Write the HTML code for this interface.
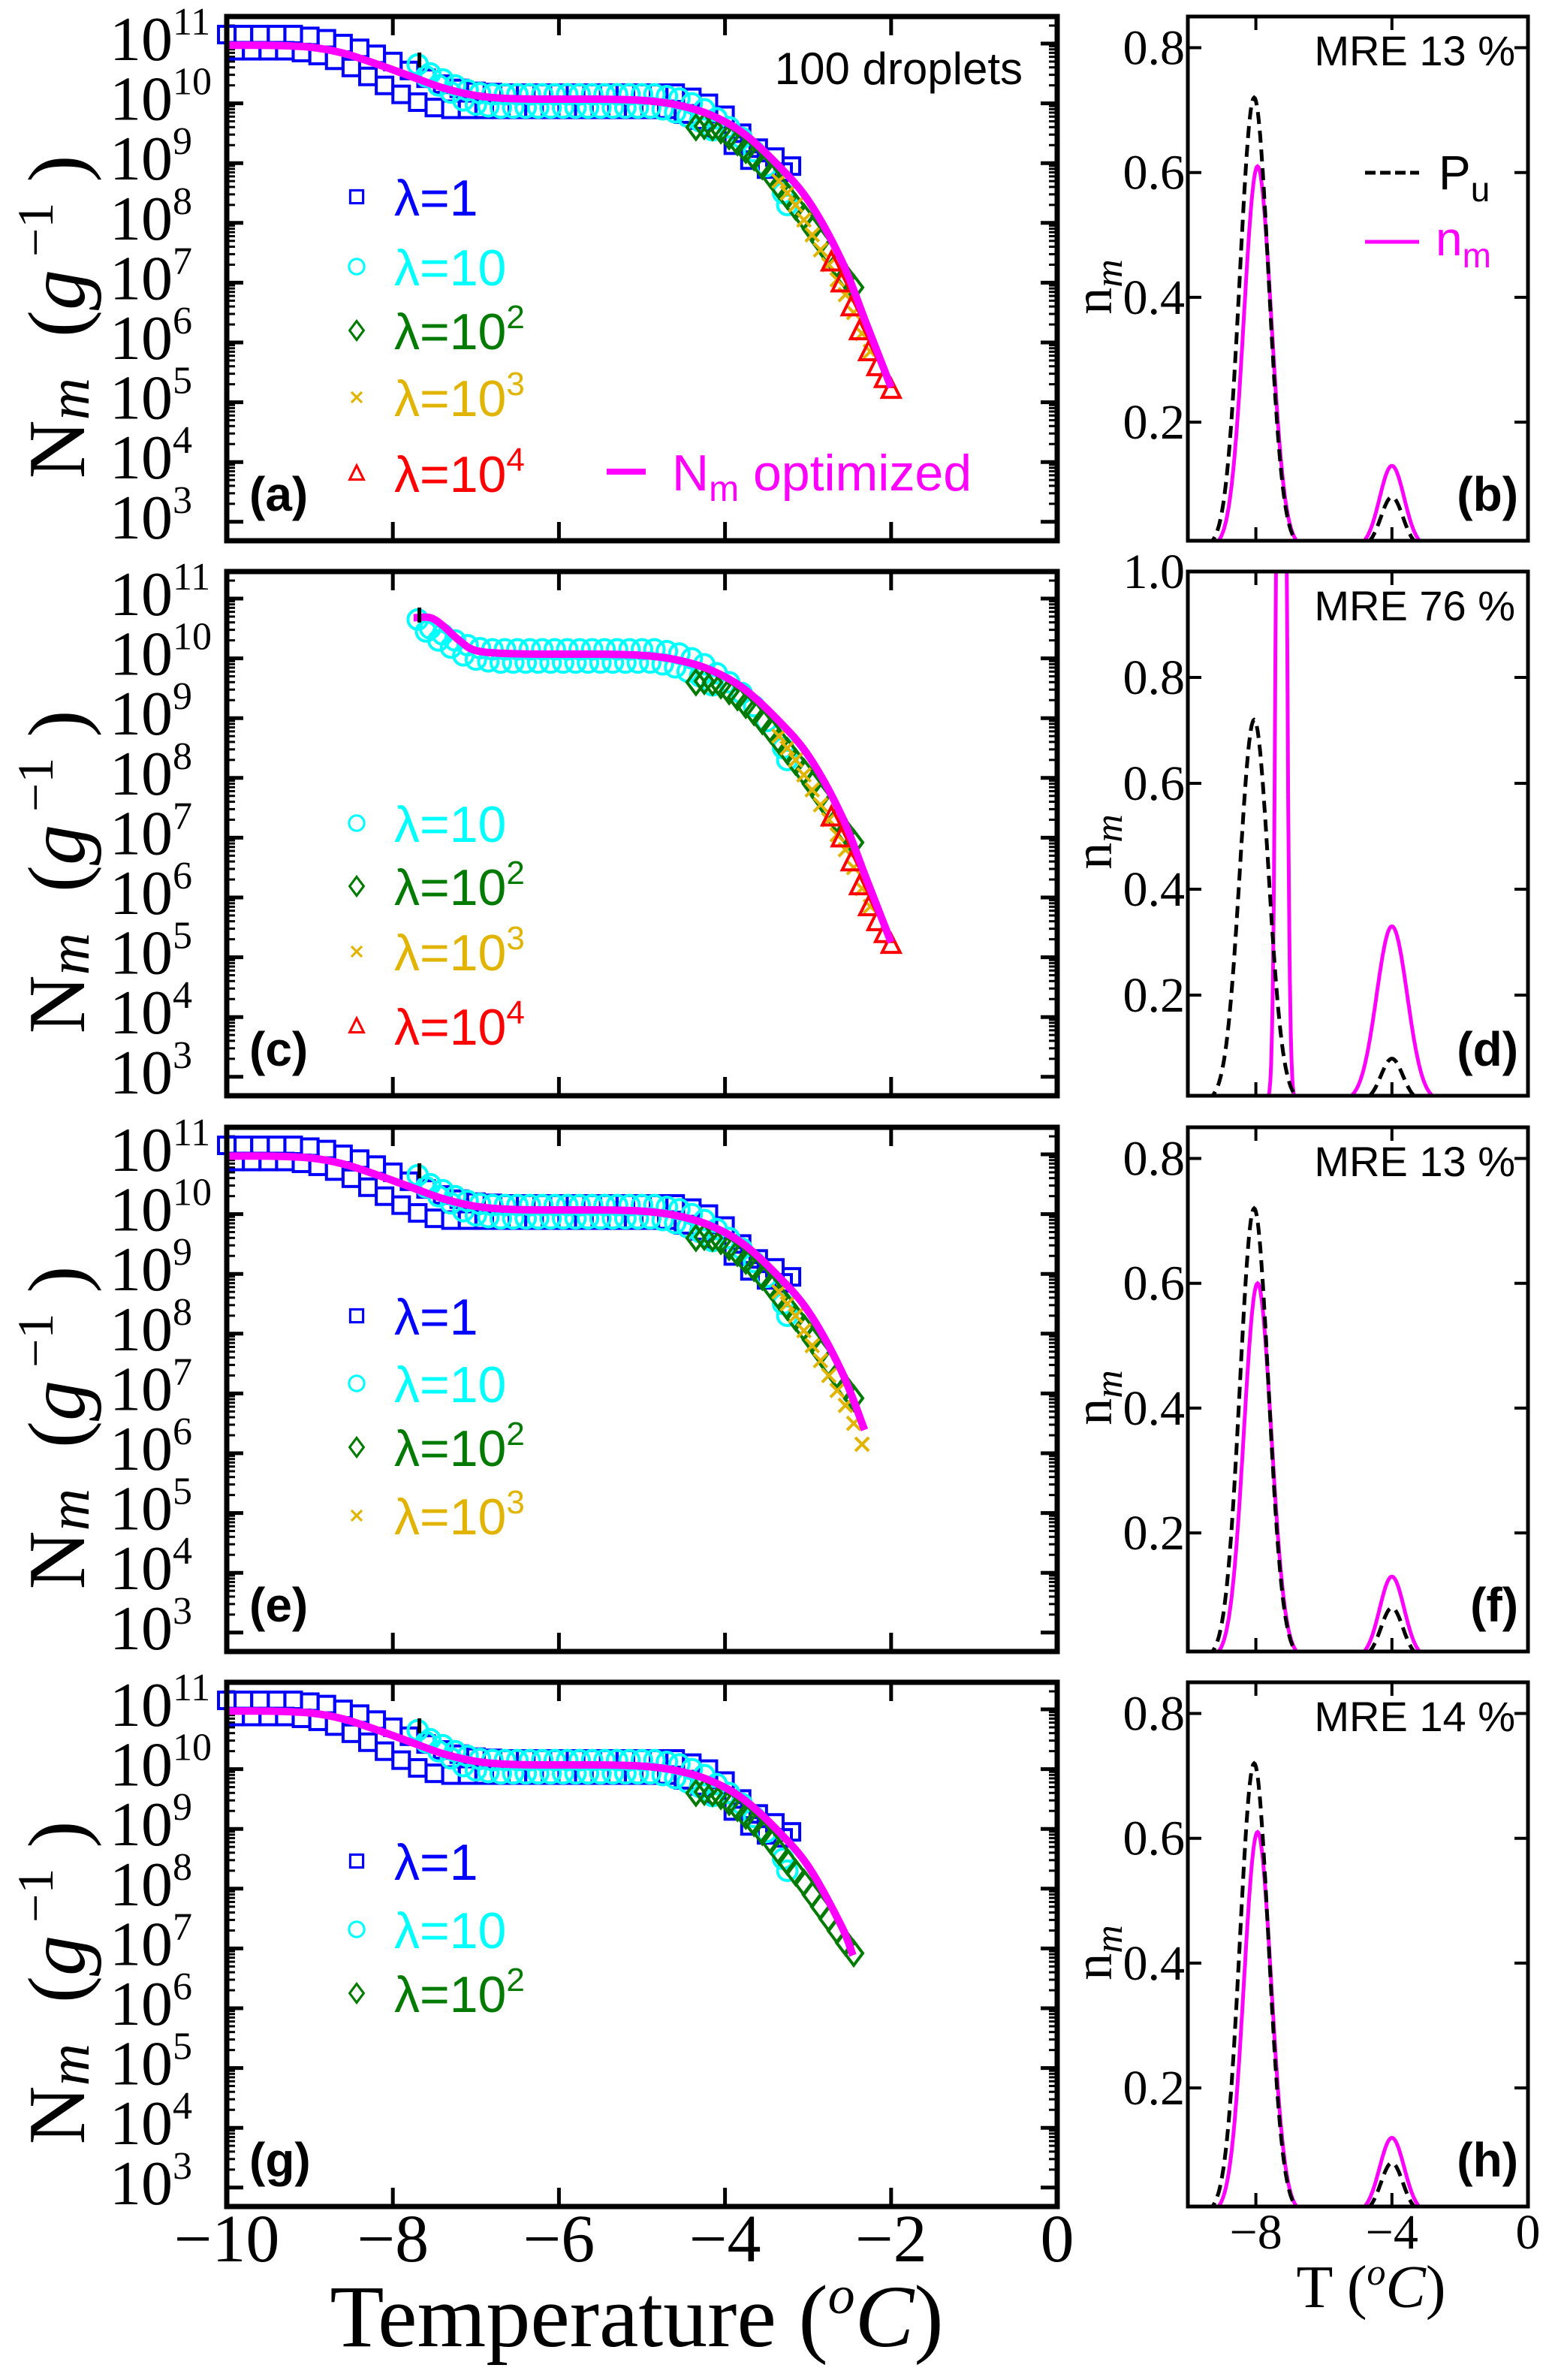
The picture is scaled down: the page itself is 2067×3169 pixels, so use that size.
<!DOCTYPE html>
<html><head><meta charset="utf-8"><style>
html,body{margin:0;padding:0;background:#fff;}
svg{display:block;}
</style></head><body>
<svg id="fig" xmlns="http://www.w3.org/2000/svg" width="2067" height="3169" viewBox="0 0 2067 3169">
<rect x="0" y="0" width="2067" height="3169" fill="#fff"/>
<g id="root"></g>
</svg>
<script>
// ---------- data ----------
const curveT   = [-10,-9.5,-9.0,-8.6,-8.2,-7.8,-7.4,-7.0,-6.6,-6.0,-5.5,-5.0,-4.6,-4.2,-3.8,-3.4,-3.0,-2.6,-2.3,-2.0];
const curveLog = [10.97,10.97,10.94,10.84,10.66,10.46,10.26,10.13,10.08,10.07,10.07,10.05,9.98,9.82,9.52,9.02,8.38,7.38,6.32,5.25];
const curveCT   = [-7.75,-7.55,-7.4,-7.2,-7.0,-6.6,-6.0,-5.5,-5.0,-4.6,-4.2,-3.8,-3.4,-3.0,-2.6,-2.3,-2.0];
const curveCLog = [10.68,10.68,10.55,10.3,10.13,10.08,10.07,10.07,10.05,9.98,9.82,9.52,9.02,8.38,7.38,6.32,5.25];
const curveEndT = [-2.0, -2.0, -2.32, -2.46];

const blueHiT   = [-10,-9.8,-9.6,-9.4,-9.2,-9.0,-8.8,-8.6,-8.4,-8.2,-8.0,-7.8,-7.6,-7.4,-7.2,-7.0,-6.8,-6.6,-6.4,-6.2,-6.0,-5.8,-5.6,-5.4,-5.2,-5.0,-4.8,-4.6,-4.4,-4.2,-4.0,-3.8,-3.6,-3.4,-3.2];
const blueHiLog = [11.15,11.15,11.15,11.15,11.15,11.12,11.08,11.0,10.92,10.82,10.7,10.55,10.42,10.32,10.25,10.2,10.18,10.17,10.17,10.17,10.17,10.17,10.17,10.17,10.17,10.17,10.17,10.17,10.1,10.0,9.8,9.5,9.25,9.1,8.95];
const blueLoT   = [-9.9,-9.7,-9.5,-9.3,-9.1,-8.9,-8.7,-8.5,-8.3,-8.1,-7.9,-7.7,-7.5,-7.3,-7.1,-6.9,-6.7,-6.5,-6.3,-6.1,-5.9,-5.7,-5.5,-5.3,-5.1,-4.9,-4.7,-4.5,-4.3,-4.1,-3.9,-3.7,-3.5,-3.3];
const blueLoLog = [10.88,10.88,10.88,10.88,10.85,10.8,10.72,10.6,10.45,10.3,10.15,10.02,9.93,9.9,9.9,9.9,9.9,9.9,9.9,9.9,9.9,9.9,9.9,9.9,9.9,9.9,9.9,9.82,9.72,9.55,9.3,9.05,8.9,8.85];

const cyanHiT   = [-7.7,-7.55,-7.4,-7.25,-7.1,-6.95,-6.8,-6.65,-6.5,-6.35,-6.2,-6.05,-5.9,-5.75,-5.6,-5.45,-5.3,-5.15,-5.0,-4.85,-4.7,-4.55,-4.4,-4.25,-4.1,-3.95,-3.8,-3.65,-3.5];
const cyanHiLog = [10.65,10.5,10.4,10.3,10.22,10.17,10.15,10.15,10.15,10.15,10.15,10.15,10.15,10.15,10.15,10.15,10.15,10.15,10.15,10.15,10.12,10.08,10.0,9.9,9.75,9.6,9.42,9.2,8.95];
const cyanLoT   = [-7.6,-7.45,-7.3,-7.15,-7.0,-6.85,-6.7,-6.55,-6.4,-6.25,-6.1,-5.95,-5.8,-5.65,-5.5,-5.35,-5.2,-5.05,-4.9,-4.75,-4.6,-4.45,-4.3,-4.15,-3.3,-3.25];
const cyanLoLog = [10.45,10.3,10.18,10.05,9.98,9.95,9.93,9.93,9.93,9.93,9.93,9.93,9.93,9.93,9.93,9.93,9.93,9.93,9.93,9.9,9.85,9.78,9.7,9.55,8.5,8.3];

const greenT   = [-4.35,-4.25,-4.15,-4.05,-3.95,-3.85,-3.75,-3.65,-3.55,-3.45,-3.35,-3.25,-3.15,-3.05,-2.95,-2.85,-2.75,-2.65,-2.55,-2.45];
const greenLog = [9.6,9.62,9.6,9.55,9.45,9.35,9.22,9.1,8.95,8.8,8.62,8.45,8.27,8.1,7.9,7.7,7.5,7.3,7.1,6.92];
const yellowT   = [-3.35,-3.25,-3.15,-3.05,-2.95,-2.85,-2.75,-2.65,-2.55,-2.45,-2.35,-2.25];
const yellowLog = [8.7,8.5,8.3,8.05,7.8,7.55,7.3,7.05,6.8,6.5,6.15,5.85];
const redT   = [-2.72,-2.6,-2.48,-2.38,-2.27,-2.17,-2.08,-2.0];
const redLog = [7.35,7.0,6.6,6.2,5.85,5.6,5.4,5.22];

const puCenters = [-8.05,-4.0];
const puHeights = [0.72,0.08];
const puWidths  = [0.42,0.32];
const nmCenters = [[-7.95,-4.0],[-7.25,-4.0],[-7.95,-4.0],[-7.95,-4.0]];
const nmHeights = [[0.61,0.13],[3.0,0.33],[0.60,0.13],[0.61,0.12]];
const nmWidths  = [[0.40,0.36],[0.11,0.45],[0.40,0.36],[0.40,0.36]];
const mreValues = ['13','76','13','14'];
const logTicks = [3,4,5,6,7,8,9,10,11];
const xTicksL = [-10,-8,-6,-4,-2,0];
const xTicksR = [-8,-4,0];

// ---------- layout ----------
const NS='http://www.w3.org/2000/svg';
const root=document.getElementById('root');
const rowTop=[22,761,1501,2240];
const H=698;
const LX0=302, LX1=1408;
const RX0=1582, RX1=2035;
function xL(T){return LX0+(LX1-LX0)*(T+10)/10;}
function yL(top,v){return top+36+79.6*(11-v);}
function xR(T){return RX0+(RX1-RX0)*(T+10)/10;}
function yR(top,v,vmax){return top+H-(v-0.01)/(vmax-0.01)*H;}
function mk(tag,attrs,parent){const e=document.createElementNS(NS,tag);for(const k in attrs)e.setAttribute(k,attrs[k]);(parent||root).appendChild(e);return e;}

const colors={blue:'#0000ff',cyan:'#00ffff',green:'#007a00',yellow:'#e0b400',red:'#ff0000',mag:'#ff00ff'};

function marker(g,type,x,y,col){
  let e;
  if(type==='sq'){e=mk('rect',{x:x-11,y:y-11,width:22,height:22,fill:'none',stroke:col,'stroke-width':4},g);}
  else if(type==='ci'){e=mk('circle',{cx:x,cy:y,r:13,fill:'none',stroke:col,'stroke-width':4},g);}
  else if(type==='di'){e=mk('path',{d:`M${x} ${y-16}L${x+12} ${y}L${x} ${y+16}L${x-12} ${y}Z`,fill:'none',stroke:col,'stroke-width':4},g);}
  else if(type==='x'){e=mk('path',{d:`M${x-9} ${y-9}L${x+9} ${y+9}M${x+9} ${y-9}L${x-9} ${y+9}`,fill:'none',stroke:col,'stroke-width':4},g);}
  else {e=mk('path',{d:`M${x} ${y-13}L${x+12} ${y+11}L${x-12} ${y+11}Z`,fill:'none',stroke:col,'stroke-width':4},g);}
  return e;
}
function series(g,top,Ts,Ls,type,col,name){
  const s=mk('g',{},g);
  
  
  for(let i=0;i<Ts.length;i++){
    const m=marker(s,type,xL(Ts[i]),yL(top,Ls[i]),col);
    
    
  }
}
function txt(g,x,y,str,attrs){const t=mk('text',Object.assign({x:x,y:y},attrs||{}),g);t.textContent=str;return t;}
function sup(t,str,size,dy){const s=mk('tspan',{'font-size':size,dy:dy},t);s.textContent=str;return s;}

const panelsL=[
 {lab:'(a)',series:['blue','cyan','green','yellow','red'],legY:[262,355,440,529,630]},
 {lab:'(c)',series:['cyan','green','yellow','red'],legY:[1096,1180,1267,1366]},
 {lab:'(e)',series:['blue','cyan','green','yellow'],legY:[1752,1842,1927,2018]},
 {lab:'(g)',series:['blue','cyan','green'],legY:[2478,2569,2654]}
];
const legInfo={blue:['sq','1',null],cyan:['ci','10',null],green:['di','10','2'],yellow:['x','10','3'],red:['tr','10','4']};
const serif='"Liberation Serif", serif', sans='"Liberation Sans", sans-serif';

panelsL.forEach((p,pi)=>{
  const top=rowTop[pi];
  const g=mk('g',{});
  
  
  logTicks.forEach(v=>{
    const y=yL(top,v);
    if(y>top&&y<top+H){
      mk('line',{x1:LX0,x2:LX0+22,y1:y,y2:y,stroke:'#000','stroke-width':5},g);
      mk('line',{x1:LX1-22,x2:LX1,y1:y,y2:y,stroke:'#000','stroke-width':5},g);
    }
    const t=txt(g,146,y+22,'10',{'font-family':serif,'font-size':84,fill:'#000'});
    
    
    sup(t,String(v),52,-34);
    for(let k=2;k<=9;k++){
      const ym=yL(top,v+Math.log10(k));
      if(ym>top+3&&ym<top+H-3){
        mk('line',{x1:LX0,x2:LX0+11,y1:ym,y2:ym,stroke:'#000','stroke-width':3},g);
        mk('line',{x1:LX1-11,x2:LX1,y1:ym,y2:ym,stroke:'#000','stroke-width':3},g);
      }
    }
  });
  [-8,-6,-4,-2].forEach(T=>{
    const x=xL(T);
    mk('line',{x1:x,x2:x,y1:top,y2:top+25,stroke:'#000','stroke-width':5},g);
    mk('line',{x1:x,x2:x,y1:top+H-25,y2:top+H,stroke:'#000','stroke-width':5},g);
  });
  const cT = pi===1?curveCT:curveT, cL = pi===1?curveCLog:curveLog;
  p.series.forEach(s=>{
    if(s==='blue'){series(g,top,blueHiT,blueHiLog,'sq',colors.blue,'lambda-1-upper');series(g,top,blueLoT,blueLoLog,'sq',colors.blue,'lambda-1-lower');}
    if(s==='cyan'){series(g,top,cyanHiT,cyanHiLog,'ci',colors.cyan,'lambda-10-upper');series(g,top,cyanLoT,cyanLoLog,'ci',colors.cyan,'lambda-10-lower');}
    if(s==='green'){series(g,top,greenT,greenLog,'di',colors.green,'lambda-100');}
    if(s==='yellow'){const n=pi===2?11:12;series(g,top,yellowT.slice(0,n),yellowLog.slice(0,n),'x',colors.yellow,'lambda-1000');}
    if(s==='red'){series(g,top,redT,redLog,'tr',colors.red,'lambda-10000');}
  });
  let pts=[];
  const endT=curveEndT[pi];
  for(let i=0;i<cT.length;i++){
    if(cT[i]<=endT+1e-9)pts.push([cT[i],cL[i]]);
    else{const a=cT[i-1],b=cT[i];const f=(endT-a)/(b-a);pts.push([endT,cL[i-1]+f*(cL[i]-cL[i-1])]);break;}
  }
  const P=pts.map(q=>[xL(q[0]),yL(top,q[1])]);
  let d=`M${P[0][0]} ${P[0][1]}`;
  for(let i=0;i<P.length-1;i++){
    const p0=P[Math.max(0,i-1)],p1=P[i],p2=P[i+1],p3=P[Math.min(P.length-1,i+2)];
    d+=`C${p1[0]+(p2[0]-p0[0])/6} ${p1[1]+(p2[1]-p0[1])/6} ${p2[0]-(p3[0]-p1[0])/6} ${p2[1]-(p3[1]-p1[1])/6} ${p2[0]} ${p2[1]}`;
  }
  const cv=mk('path',{d:d,fill:'none',stroke:colors.mag,'stroke-width':10,'stroke-linejoin':'round'},g);
  
  
  mk('line',{x1:xL(-7.68),x2:xL(-7.68),y1:yL(top,10.85),y2:yL(top,10.6),stroke:'#000','stroke-width':5},g);
  const fr=mk('rect',{x:LX0,y:top,width:LX1-LX0,height:H,fill:'none',stroke:'#000','stroke-width':7},g);
  
  
  const yt=txt(g,0,0,'N',{'font-family':serif,'font-size':108,fill:'#000',transform:`translate(112 ${top+400}) rotate(-90)`,'text-anchor':'middle'});
  
  
  const sm=sup(yt,'m',78,6);sm.setAttribute('font-style','italic');
  sup(yt,'\u00a0\u00a0(',108,-6);
  const s2=sup(yt,'g',108,0);s2.setAttribute('font-style','italic');
  sup(yt,'\u00a0−1',68,-42);
  sup(yt,'\u00a0)',108,42);
  p.series.forEach((s,i)=>{
    const y=p.legY[i];const info=legInfo[s];
    const lg=mk('g',{},g);
    
    
    const mm=mk('g',{transform:`translate(${475} ${y}) scale(0.78)`},lg);
    marker(mm,info[0],0,0,colors[s]);
    const t=txt(lg,525,y+25,'λ='+info[1],{'font-family':sans,'font-size':68,fill:colors[s]});
    if(info[2])sup(t,info[2],44,-28);
  });
  if(pi===0){
    const lg=mk('g',{},g);
    
    
    mk('line',{x1:808,x2:860,y1:628,y2:628,stroke:colors.mag,'stroke-width':8},lg);
    const t=txt(lg,895,653,'N',{'font-family':sans,'font-size':68,fill:colors.mag});
    sup(t,'m',48,14);
    sup(t,' optimized',68,-14);
    const dt=txt(g,1362,112,'100 droplets',{'font-family':sans,'font-size':60,fill:'#000','text-anchor':'end'});
    
    
  }
  const pl=txt(g,332,top+658,p.lab,{'font-family':sans,'font-size':64,'font-weight':'bold',fill:'#000'});
  
  
});

xTicksL.forEach(T=>{
  const t=txt(root,xL(T),3011,(T<0?'−':'')+Math.abs(T),{'font-family':serif,'font-size':90,fill:'#000','text-anchor':'middle'});
  
  
});
const xt=txt(root,848,3124,'Temperature (',{'font-family':serif,'font-size':118,fill:'#000','text-anchor':'middle'});


{const a=sup(xt,'o',72,-44);a.setAttribute('font-style','italic');const b=sup(xt,'C',118,44);b.setAttribute('font-style','italic');sup(xt,')',118,0);}

const rLabs=['(b)','(d)','(f)','(h)'];
function gaussSum(T,c,h,w){let s=0;for(let i=0;i<c.length;i++)s+=h[i]*Math.exp(-0.5*((T-c[i])/w[i])**2);return s;}
const clip=mk('defs',{});
rowTop.forEach((top,pi)=>{
  const vmax = pi===1?1.0:0.85;
  const g=mk('g',{});
  
  
  const cp=mk('clipPath',{id:'cp'+pi},clip);
  mk('rect',{x:RX0,y:top,width:RX1-RX0,height:H},cp);
  const ticks = pi===1?[0.2,0.4,0.6,0.8,1.0]:[0.2,0.4,0.6,0.8];
  ticks.forEach(v=>{
    const y=yR(top,v,vmax);
    mk('line',{x1:RX0,x2:RX0+18,y1:y,y2:y,stroke:'#000','stroke-width':4},g);
    mk('line',{x1:RX1-18,x2:RX1,y1:y,y2:y,stroke:'#000','stroke-width':4},g);
    const t=txt(g,RX0-4,y+22,v.toFixed(1),{'font-family':serif,'font-size':66,fill:'#000','text-anchor':'end'});
    
    
  });
  [-8,-4].forEach(T=>{
    const x=xR(T);
    mk('line',{x1:x,x2:x,y1:top,y2:top+18,stroke:'#000','stroke-width':4},g);
    mk('line',{x1:x,x2:x,y1:top+H-18,y2:top+H,stroke:'#000','stroke-width':4},g);
  });
  const cg=mk('g',{'clip-path':`url(#cp${pi})`},g);
  let dp='',dn='';
  for(let i=0;i<=400;i++){
    const T=-10+10*i/400;
    const yp=yR(top,gaussSum(T,puCenters,puHeights,puWidths),vmax);
    const yn=yR(top,gaussSum(T,nmCenters[pi],nmHeights[pi],nmWidths[pi]),vmax);
    dp+=(i?'L':'M')+xR(T).toFixed(1)+' '+Math.min(yp,top+H+10).toFixed(1);
    dn+=(i?'L':'M')+xR(T).toFixed(1)+' '+Math.max(Math.min(yn,top+H+10),top-50).toFixed(1);
  }
  const ln=mk('path',{d:dn,fill:'none',stroke:colors.mag,'stroke-width':5},cg);
  
  
  const lp=mk('path',{d:dp,fill:'none',stroke:'#000','stroke-width':5,'stroke-dasharray':'16 9'},cg);
  
  
  const fr=mk('rect',{x:RX0,y:top,width:RX1-RX0,height:H,fill:'none',stroke:'#000','stroke-width':5},g);
  
  
  const mt=txt(g,2018,top+65,'MRE '+mreValues[pi]+' %',{'font-family':sans,'font-size':56,fill:'#000','text-anchor':'end'});
  
  
  const yl=txt(g,0,0,'n',{'font-family':serif,'font-size':72,fill:'#000',transform:`translate(1480 ${top+360}) rotate(-90)`,'text-anchor':'middle'});
  
  
  {const s=sup(yl,'m',52,14);s.setAttribute('font-style','italic');}
  const pl=txt(g,2022,top+658,rLabs[pi],{'font-family':sans,'font-size':64,'font-weight':'bold',fill:'#000','text-anchor':'end'});
  
  
  if(pi===0){
    const l1=mk('g',{},g);
    
    
    mk('line',{x1:1818,x2:1890,y1:230,y2:230,stroke:'#000','stroke-width':5,'stroke-dasharray':'14 6'},l1);
    const t=txt(l1,1916,252,'P',{'font-family':sans,'font-size':64,fill:'#000'});
    sup(t,'u',46,16);
    const l2=mk('g',{},g);
    
    
    mk('line',{x1:1818,x2:1890,y1:322,y2:322,stroke:colors.mag,'stroke-width':5},l2);
    const t2=txt(l2,1912,340,'n',{'font-family':sans,'font-size':64,fill:colors.mag});
    sup(t2,'m',46,16);
  }
});
xTicksR.forEach(T=>{
  const t=txt(root,xR(T),2994,(T<0?'−':'')+Math.abs(T),{'font-family':serif,'font-size':66,fill:'#000','text-anchor':'middle'});
  
  
});
const rt=txt(root,1826,3072,'T (',{'font-family':serif,'font-size':80,fill:'#000','text-anchor':'middle'});


{const a=sup(rt,'o',50,-30);a.setAttribute('font-style','italic');const b=sup(rt,'C',80,30);b.setAttribute('font-style','italic');sup(rt,')',80,0);}
</script>
</body></html>
